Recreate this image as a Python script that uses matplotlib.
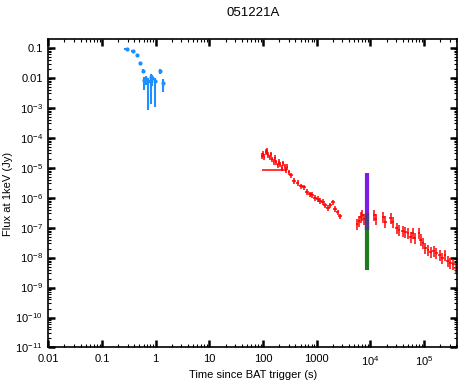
import numpy as np
import matplotlib
matplotlib.use("Agg")
import matplotlib.pyplot as plt
from matplotlib.ticker import LogLocator, FuncFormatter, NullFormatter

plt.rcParams['font.family'] = ['Liberation Sans', 'DejaVu Sans']
plt.rcParams['mathtext.fontset'] = 'custom'
plt.rcParams['mathtext.rm'] = 'Liberation Sans'

title = "051221A"

# BAT (blue): time (s), flux (Jy), errors in dex
t_bat = [0.29, 0.38, 0.45, 0.51, 0.58, 0.61, 0.66, 0.73, 0.82, 0.87, 0.97, 1.2, 1.38]
f_bat = [0.093, 0.079, 0.057, 0.031, 0.017, 0.0085, 0.0089, 0.0076, 0.011, 0.0098, 0.0076, 0.017, 0.0069]
tw_bat = [0.045, 0.03, 0.02, 0.015, 0.015, 0.01, 0.01, 0.01, 0.01, 0.01, 0.01, 0.015, 0.012]
flo_bat = [0.02, 0.02, 0.03, 0.04, 0.06, 0.35, 0.2, 0.95, 0.9, 0.25, 0.85, 0.1, 0.3]
fhi_bat = [0.02, 0.02, 0.03, 0.04, 0.05, 0.1, 0.1, 0.12, 0.1, 0.1, 0.12, 0.08, 0.12]

# XRT (red), first orbit: windowed timing part
t_wt = [94, 100, 106, 112, 118, 125, 132, 140, 148, 157, 166, 176, 187, 198, 210, 223,
        237, 252, 268, 285, 305]
f_wt = [2.5e-5, 2.9e-5, 2.3e-5, 3.3e-5, 3.7e-5, 2.7e-5, 2.2e-5, 2.8e-5, 1.9e-5, 1.6e-5,
        2.1e-5, 1.5e-5, 1.2e-5, 1.6e-5, 1.3e-5, 1.0e-5, 1.4e-5, 1.1e-5, 8.5e-6, 1.05e-5,
        7.0e-6]

# XRT (red), first orbit: photon counting part
t_pc1 = [330, 380, 440, 510, 580, 660, 740, 830, 930, 1040, 1160, 1300, 1450, 1620, 1800,
         2000, 2200, 2450, 2700]
f_pc1 = [5.5e-6, 3.6e-6, 3.1e-6, 2.4e-6, 2.2e-6, 1.6e-6, 1.3e-6, 1.25e-6, 1.0e-6, 9e-7,
         8e-7, 7.2e-7, 5.5e-7, 4.5e-7, 5.5e-7, 7.0e-7, 4.2e-7, 3.2e-7, 2.4e-7]

# XRT (red), later orbits
t_pc2 = [5600, 6100, 6600, 7100, 7700, 11800, 12600, 17500, 19000, 24000, 26000, 31000,
         34000, 40000, 45000, 50000, 56000, 61000, 67000, 80000, 87000, 95000, 105000,
         118000, 132000, 150000, 170000, 195000, 220000, 245000, 275000, 310000, 350000,
         390000, 430000]
f_pc2 = [1.3e-7, 1.7e-7, 2.3e-7, 2.6e-7, 2.0e-7, 2.7e-7, 2.0e-7, 2.2e-7, 1.6e-7, 2.1e-7,
         1.5e-7, 1.0e-7, 8.5e-8, 7.5e-8, 7.0e-8, 6.5e-8, 5.0e-8, 6.5e-8, 4.5e-8, 6.5e-8,
         4.0e-8, 3.0e-8, 2.1e-8, 1.8e-8, 1.5e-8, 1.6e-8, 1.4e-8, 1.2e-8, 9.5e-9, 1.25e-8,
         7.5e-9, 6.5e-9, 6.0e-9, 4.5e-9, 4.2e-9]

# single long-exposure point
t_long = [162]
f_long = [8.6e-6]
tw_long = [0.237]

# vertical bars near 1e4 s (time, flux low, flux high)
t_bar = 8500
bar_purple = (8.5e-8, 6.8e-6)
bar_green = (4.0e-9, 3.0e-7)


def dex_err(vals, lo, hi):
    v = np.asarray(vals, float)
    lo = np.broadcast_to(np.asarray(lo, float), v.shape)
    hi = np.broadcast_to(np.asarray(hi, float), v.shape)
    return [v - v / 10 ** lo, v * 10 ** hi - v]


fig = plt.figure(figsize=(4.63, 3.83), dpi=100)
ax = fig.add_axes([0.1043, 0.0927, 0.8827, 0.8042])

ax.errorbar(t_bat, f_bat, xerr=dex_err(t_bat, tw_bat, tw_bat),
            yerr=dex_err(f_bat, flo_bat, fhi_bat), fmt='o', ms=2,
            color='#1e8fff', ecolor='#1e8fff', elinewidth=1.5, capsize=0)

red = dict(fmt='none', ecolor='red', elinewidth=1.1, capsize=0)
ax.errorbar(t_wt, f_wt, xerr=dex_err(t_wt, 0.015, 0.015),
            yerr=dex_err(f_wt, 0.1, 0.09), **red)
ax.errorbar(t_pc1, f_pc1, xerr=dex_err(t_pc1, 0.035, 0.035),
            yerr=dex_err(f_pc1, 0.1, 0.09), **red)
ax.errorbar(t_long, f_long, xerr=dex_err(t_long, tw_long, tw_long), **red)
ax.errorbar(t_pc2, f_pc2, xerr=dex_err(t_pc2, 0.025, 0.025),
            yerr=dex_err(f_pc2, 0.2, 0.17), **red)

# purple and green bars, with their overlap shaded darker
ax.vlines(t_bar, *bar_purple, color='#7a1ee6', lw=3)
ax.vlines(t_bar, *bar_green, color='#1f7a1f', lw=3)
ax.vlines(t_bar, max(bar_purple[0], bar_green[0]), min(bar_purple[1], bar_green[1]),
          color='#4a3a8a', lw=3)

ax.set_xscale('log')
ax.set_yscale('log')
ax.set_xlim(0.01, 4.1e5)
ax.set_ylim(1e-11, 0.19)


def fmt_x(v, pos):
    e = int(round(np.log10(v)))
    if e <= 3:
        return '%g' % v
    return r'$\mathregular{10^{%d}}$' % e


def fmt_y(v, pos):
    e = int(round(np.log10(v)))
    if e >= -2:
        return '%g' % v
    return r'$\mathregular{10^{%d}}$' % e


ax.xaxis.set_major_locator(LogLocator(base=10, numticks=20))
ax.yaxis.set_major_locator(LogLocator(base=10, numticks=20))
ax.xaxis.set_minor_locator(LogLocator(base=10, subs=np.arange(2, 10), numticks=20))
ax.yaxis.set_minor_locator(LogLocator(base=10, subs=np.arange(2, 10), numticks=20))
ax.xaxis.set_major_formatter(FuncFormatter(fmt_x))
ax.yaxis.set_major_formatter(FuncFormatter(fmt_y))
ax.xaxis.set_minor_formatter(NullFormatter())
ax.yaxis.set_minor_formatter(NullFormatter())

ax.tick_params(which='both', direction='in', top=True, right=True, labelsize=8)
ax.tick_params(which='major', length=5, width=1.8)
ax.tick_params(which='minor', length=2.5, width=0.8)
ax.tick_params(axis='x', pad=5)
ax.tick_params(axis='y', pad=4)
for s in ax.spines.values():
    s.set_linewidth(1.2)

ax.set_xlabel('Time since BAT trigger (s)', fontsize=8, labelpad=1)
ax.set_ylabel('Flux at 1keV (Jy)', fontsize=8, labelpad=2)
fig.text(0.547, 0.966, title, ha='center', va='center', fontsize=9.5)

fig.savefig('out.png', dpi=100)
